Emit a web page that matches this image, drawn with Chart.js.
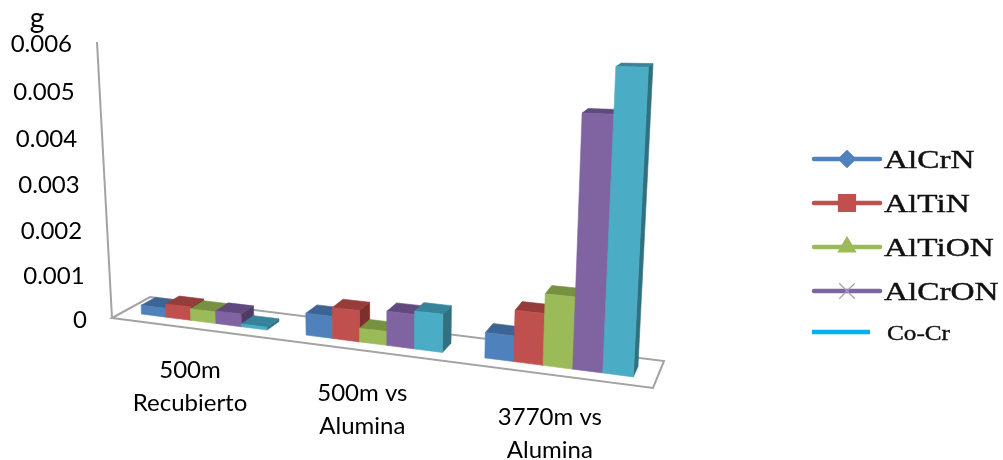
<!DOCTYPE html>
<html>
<head>
<meta charset="utf-8">
<title>Desgaste</title>
<script src="https://cdn.jsdelivr.net/npm/chart.js@4"></script>
<style>
    html, body { margin: 0; padding: 0; background: #fff; }
    canvas { display: block; }
</style>
</head>
<body>
<canvas id="wearChart" width="1003" height="460"></canvas>
<script>
const categories = [['500m', 'Recubierto'], ['500m vs', 'Alumina'], ['3770m vs', 'Alumina']];
const yTickLabels = ['0', '0.001', '0.002', '0.003', '0.004', '0.005', '0.006'];
const unitLabel = 'g';

const alCrN = [0.0002, 0.00047, 0.00051];
const alTiN = [0.0003, 0.00066, 0.00102];
const alTiON = [0.00026, 0.00029, 0.0014];
const alCrON = [0.00028, 0.00071, 0.00479];
const coCr = [0.00006, 0.00078, 0.00562];

// front, top and side shades per series
const shades = {
    AlCrN: ['#4f81bd', '#3c6494', '#355a85'],
    AlTiN: ['#c0504d', '#963c3a', '#7c2f2d'],
    AlTiON: ['#9bbb59', '#76913f', '#64793a'],
    AlCrON: ['#8064a2', '#60497c', '#4f3c66'],
    'Co-Cr': ['#4bacc6', '#37849a', '#31707f']
};

// floor corners and vertical vanishing point of the 3D view
const floor = [[112, 318], [653, 388], [664, 361], [150, 297]];
const axisTop = [97, 42];
const vanish = [388, 5400];
const barDepth = [0.29, 0.67];
const widthFalloff = 1.03; // categories squeeze a little towards the far end
const heightGain = 0.12;   // columns grow towards the near end

function makeView() {
    const [p0, p1, p2, p3] = floor;
    const dx1 = p1[0] - p2[0], dx2 = p3[0] - p2[0], sx = p0[0] - p1[0] + p2[0] - p3[0];
    const dy1 = p1[1] - p2[1], dy2 = p3[1] - p2[1], sy = p0[1] - p1[1] + p2[1] - p3[1];
    const det = dx1 * dy2 - dx2 * dy1;
    const g = (sx * dy2 - dx2 * sy) / det;
    const h = (dx1 * sy - sx * dy1) / det;
    const a = p1[0] - p0[0] + g * p1[0], b = p3[0] - p0[0] + h * p3[0];
    const d = p1[1] - p0[1] + g * p1[1], e = p3[1] - p0[1] + h * p3[1];
    const k = (axisTop[1] - p0[1]) / (vanish[1] - axisTop[1]);
    // u: along the categories, v: into the depth, t: share of the value axis
    return function (u0, v, t0) {
        const u = u0 / (u0 + (1 - u0) * widthFalloff);
        const t = t0 * (1 + heightGain * u);
        const w = g * u + h * v + 1 + t * k;
        return [
            (a * u + b * v + p0[0] + t * k * vanish[0]) / w,
            (d * u + e * v + p0[1] + t * k * vanish[1]) / w
        ];
    };
}
const project = makeView();

function face(ctx, pts, color) {
    ctx.beginPath();
    pts.forEach((p, i) => i ? ctx.lineTo(p[0], p[1]) : ctx.moveTo(p[0], p[1]));
    ctx.closePath();
    ctx.fillStyle = color;
    ctx.strokeStyle = color;
    ctx.lineWidth = 0.6;
    ctx.fill();
    ctx.stroke();
}

function drawPrism(ctx, u0, u1, t, colors) {
    const [v0, v1] = barDepth;
    const fbl = project(u0, v0, 0), fbr = project(u1, v0, 0), bbr = project(u1, v1, 0);
    const ftl = project(u0, v0, t), ftr = project(u1, v0, t);
    const btl = project(u0, v1, t), btr = project(u1, v1, t);
    face(ctx, [ftr, btr, bbr, fbr], colors[2]);
    face(ctx, [ftl, btl, btr, ftr], colors[1]);
    face(ctx, [fbl, ftl, ftr, fbr], colors[0]);
}

// hides the flat bars and draws everything through the 3D view
const view3d = {
    id: 'view3d',
    beforeDatasetsDraw(chart) {
        const ctx = chart.ctx;
        const area = chart.chartArea;
        const yScale = chart.scales.y;
        const zero = yScale.getPixelForValue(0);
        const span = zero - yScale.getPixelForValue(0.006);

        ctx.save();
        ctx.lineJoin = 'miter';
        ctx.strokeStyle = '#a3a3a3';
        ctx.lineWidth = 2;
        ctx.beginPath();
        floor.forEach((p, i) => i ? ctx.lineTo(p[0], p[1]) : ctx.moveTo(p[0], p[1]));
        ctx.closePath();
        ctx.stroke();
        ctx.beginPath();
        ctx.moveTo(floor[0][0], floor[0][1]);
        ctx.lineTo(axisTop[0], axisTop[1]);
        ctx.stroke();

        categories.forEach((cat, c) => {
            chart.data.datasets.forEach((ds, i) => {
                const bar = chart.getDatasetMeta(i).data[c];
                const u0 = (bar.x - bar.width / 2 - area.left) / area.width;
                const u1 = (bar.x + bar.width / 2 - area.left) / area.width;
                drawPrism(ctx, u0, u1, (zero - bar.y) / span, shades[ds.label]);
            });
        });

        ctx.fillStyle = '#000';
        ctx.font = '24px Lato';
        ctx.textAlign = 'right';
        ctx.textBaseline = 'middle';
        yScale.ticks.forEach((tick) => {
            const t = (zero - yScale.getPixelForValue(tick.value)) / span;
            const p = project(0, 0, t);
            ctx.fillText(tick.label, p[0] - 25, p[1] + 2);
        });

        const xScale = chart.scales.x;
        ctx.textAlign = 'center';
        categories.forEach((cat, c) => {
            const u = (xScale.getPixelForValue(c) - area.left) / area.width;
            const p = project(u, 0, 0);
            cat.forEach((line, n) => ctx.fillText(line, p[0] - 3, p[1] + 42 + n * 33));
        });
        ctx.font = '28px Lato';
        ctx.fillText(unitLabel, 37, 19);

        drawLegend(chart);
        ctx.restore();
        return false;
    }
};

function drawLegend(chart) {
    const ctx = chart.ctx;
    const rowY = [159, 203, 247, 291, 332];
    const markerSize = { rectRot: 8.5, rect: 12, triangle: 10, crossRot: 11 };
    chart.data.datasets.forEach((ds, i) => {
        const y = rowY[i];
        const marker = ds.pointStyle !== false;
        const x0 = marker ? 814 : 812, x1 = marker ? 880 : 870;
        ctx.strokeStyle = marker ? ds.backgroundColor : '#00b0f0';
        ctx.lineWidth = 4.5;
        ctx.lineCap = marker ? 'round' : 'butt';
        ctx.beginPath();
        ctx.moveTo(x0, y);
        ctx.lineTo(x1, y);
        ctx.stroke();
        ctx.lineCap = 'butt';
        if (marker) {
            ctx.fillStyle = ds.backgroundColor;
            ctx.strokeStyle = ds.pointStyle === 'crossRot' ? '#a697bd' : ds.backgroundColor;
            ctx.lineWidth = 1.2;
            Chart.helpers.drawPoint(ctx, {
                pointStyle: ds.pointStyle,
                radius: markerSize[ds.pointStyle],
                rotation: 0,
                borderWidth: 1.2
            }, (x0 + x1) / 2, y);
        }
        // the legend type runs wide, so stretch it sideways
        ctx.save();
        ctx.fillStyle = '#111';
        ctx.strokeStyle = '#111';
        ctx.lineWidth = 0.4;
        ctx.textAlign = 'left';
        ctx.textBaseline = 'middle';
        ctx.font = (marker ? 25 : 21) + 'px "Liberation Serif"';
        ctx.translate(marker ? 884 : 887, y + 2);
        ctx.scale(marker ? 1.33 : 1.2, 1);
        ctx.fillText(ds.label, 0, 0);
        ctx.strokeText(ds.label, 0, 0);
        ctx.restore();
    });
}

function series(label, data, pointStyle) {
    return { label, data, pointStyle, backgroundColor: shades[label][0] };
}

new Chart(document.getElementById('wearChart').getContext('2d'), {
    type: 'bar',
    data: {
        labels: categories,
        datasets: [
            series('AlCrN', alCrN, 'rectRot'),
            series('AlTiN', alTiN, 'rect'),
            series('AlTiON', alTiON, 'triangle'),
            series('AlCrON', alCrON, 'crossRot'),
            series('Co-Cr', coCr, false)
        ]
    },
    options: {
        responsive: false,
        animation: false,
        categoryPercentage: 0.77,
        barPercentage: 1,
        layout: { padding: 0 },
        scales: {
            x: { display: false },
            y: {
                display: false,
                min: 0,
                max: 0.006,
                ticks: { stepSize: 0.001, callback: (v, i) => yTickLabels[i] }
            }
        },
        plugins: { legend: { display: false }, tooltip: { enabled: false } }
    },
    plugins: [view3d]
});
</script>
</body>
</html>
